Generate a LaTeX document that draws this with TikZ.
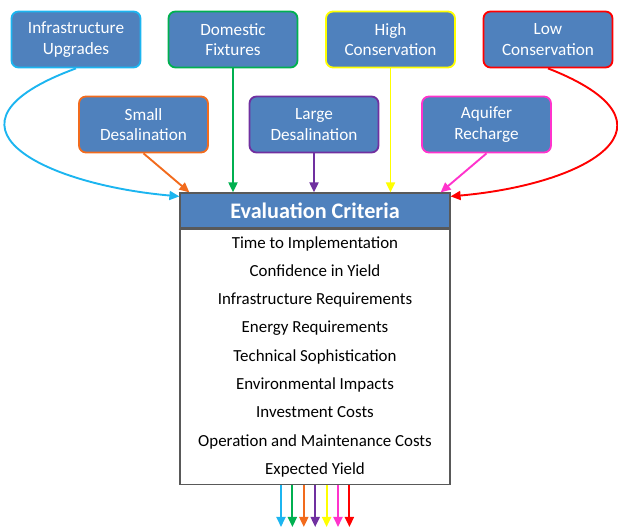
\documentclass[tikz,border=0pt]{standalone}
\usepackage{fontspec}
\setmainfont{Carlito}
\usepackage{tikz}
\usetikzlibrary{arrows.meta,positioning,calc}
\definecolor{BoxBlue}{HTML}{4F81BD}
\definecolor{LineGray}{HTML}{595959}
\definecolor{OptCyan}{HTML}{1CB5F0}
\definecolor{OptGreen}{HTML}{00B050}
\definecolor{OptOrange}{HTML}{F26B1D}
\definecolor{OptPurple}{HTML}{7030A0}
\definecolor{OptYellow}{HTML}{FFFF00}
\definecolor{OptPink}{HTML}{FF33CC}
\definecolor{OptRed}{HTML}{FF0000}

\begin{document}
\begin{tikzpicture}[
  x=1pt, y=1pt,
  opt/.style={draw,line width=1.8pt,rounded corners=7pt,fill=BoxBlue,text=white,
    minimum width=129pt,minimum height=56pt,align=center,
    font=\fontsize{17.2}{20.5}\selectfont},
  arrow/.style={-{Triangle[width=9pt,length=10pt]},line width=1.9pt}
]
  \useasboundingbox (0,0) rectangle (618,529);

  % options, top row
  \node[opt, draw=OptCyan] (infra) at (76,489.5) {Infrastructure\\Upgrades};
  \node[opt, draw=OptGreen] (dom) at (233,489.5) {Domestic\\Fixtures};
  \node[opt, draw=OptYellow] (high) at (390.5,489.5) {High\\Conservation};
  \node[opt, draw=OptRed] (low) at (548,489.5) {Low\\Conservation};

  % options, second row
  \node[opt, draw=OptOrange] (small) at (143.5,404.5) {Small\\Desalination};
  \node[opt, draw=OptPurple] (large) at (314,404.5) {Large\\Desalination};
  \node[opt, draw=OptPink] (aqui) at (486.5,404.5) {Aquifer\\Recharge};

  % criteria box
  \node[draw=LineGray,line width=1.2pt,fill=BoxBlue,text=white,minimum width=270pt,
    minimum height=35pt,font=\fontsize{22.2}{26}\selectfont\bfseries] (head) at (315,318.5)
    {Evaluation Criteria};
  \node[draw=LineGray,line width=1.2pt,fill=white,minimum width=270pt,minimum height=255pt,
    anchor=north,align=center,font=\fontsize{16.9}{28.3}\selectfont,inner sep=0pt]
    (crit) at (head.south) {Time to Implementation\\Confidence in Yield\\
    Infrastructure Requirements\\Energy Requirements\\Technical Sophistication\\
    Environmental Impacts\\Investment Costs\\Operation and Maintenance Costs\\Expected Yield};

  % inputs
  \draw[arrow, OptCyan] (infra.south) .. controls (-75,405) and (40,345) .. ([yshift=-4pt]head.north west);
  \draw[arrow, OptOrange] (small.south) -- ([xshift=10pt]head.north west);
  \draw[arrow, OptGreen] (dom.south) -- (dom.south |- head.north);
  \draw[arrow, OptPurple] (large.south) -- (large.south |- head.north);
  \draw[arrow, OptYellow] (high.south) -- (high.south |- head.north);
  \draw[arrow, OptPink] (aqui.south) -- ([xshift=-10pt]head.north east);
  \draw[arrow, OptRed] (low.south) .. controls (690,405) and (590,345) .. ([yshift=-4pt]head.north east);

  % outputs
  \coordinate (o1) at (281,2);
  \foreach \c [count=\i from 0] in {OptCyan,OptGreen,OptOrange,OptPurple,OptYellow,OptPink,OptRed}
    \draw[arrow, \c] ([xshift=\i*11.4pt]crit.south west -| o1) -- ([xshift=\i*11.4pt]o1);
\end{tikzpicture}
\end{document}
